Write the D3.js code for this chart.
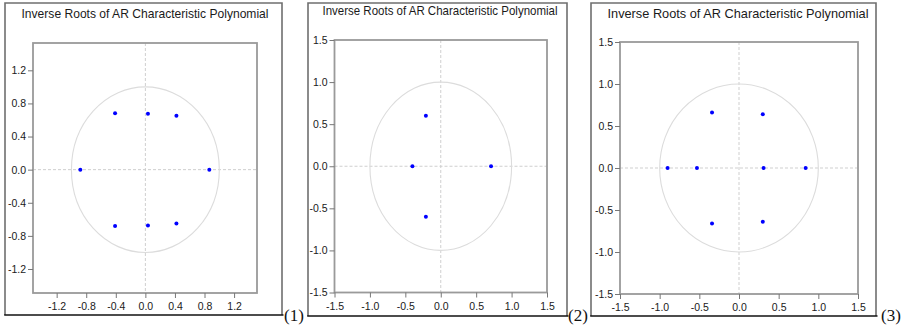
<!DOCTYPE html>
<html>
<head>
<meta charset="utf-8">
<script src="https://cdn.jsdelivr.net/npm/d3@7"></script>
<style>
  body { margin: 0; background: #fff; }
  text { font-family: "Liberation Sans", Arial, sans-serif; }
</style>
</head>
<body>
<div id="chart"></div>
<script>
const re1 = [-0.41, 0.035, 0.42, -0.88, 0.865, -0.41, 0.035, 0.42];
const im1 = [0.68, 0.675, 0.65, 0, 0, -0.68, -0.675, -0.65];

const re2 = [-0.21, -0.40, 0.71, -0.21];
const im2 = [0.60, 0, 0, -0.60];

const re3 = [-0.34, 0.30, -0.90, -0.53, 0.31, 0.84, -0.34, 0.30];
const im3 = [0.66, 0.64, 0, 0, 0, 0, -0.66, -0.64];

const ticks1 = [-1.2, -0.8, -0.4, 0.0, 0.4, 0.8, 1.2];
const ticks23 = [-1.5, -1.0, -0.5, 0.0, 0.5, 1.0, 1.5];

const title = "Inverse Roots of AR Characteristic Polynomial";
const panelLabels = ["(1)", "(2)", "(3)"];

const W = 905, H = 327;

// plain hyphen for negatives, like the original
const fmt = function(d) { return d3.format(".1f")(d).replace("\u2212", "-"); };

const svg = d3.select("#chart")
  .append("svg")
    .attr("width", W)
    .attr("height", H);

// layout of each panel (frame, plot area, title)
const panels = [
  { re: re1, im: im1, ticks: ticks1, xdom: [-1.52, 1.51], ydom: [-1.49, 1.53],
    frame: {x0: 5, y0: 3, x1: 282, y1: 315},
    plot: {x0: 33, y0: 43, x1: 257, y1: 293},
    titleX: 145, titleY: 18, titleW: 247, labelX: 284 },
  { re: re2, im: im2, ticks: ticks23, xdom: [-1.5, 1.5], ydom: [-1.5, 1.5],
    frame: {x0: 308, y0: 3, x1: 567, y1: 316},
    plot: {x0: 334.5, y0: 40, x1: 547, y1: 292.5},
    titleX: 440, titleY: 15, titleW: 235, labelX: 568 },
  { re: re3, im: im3, ticks: ticks23, xdom: [-1.5, 1.5], ydom: [-1.5, 1.5],
    frame: {x0: 591, y0: 3, x1: 876, y1: 316},
    plot: {x0: 620, y0: 42, x1: 858, y1: 294},
    titleX: 738, titleY: 17.5, titleW: 261, labelX: 881 }
];

panels.forEach(function(p, i) {
  const g = svg.append("g");
  const f = p.frame, a = p.plot;

  // outer frame: grey on three sides, black bottom rule
  g.append("path")
    .attr("d", `M${f.x0},${f.y1} L${f.x0},${f.y0} L${f.x1},${f.y0} L${f.x1},${f.y1}`)
    .attr("fill", "none")
    .attr("stroke", "#6f6f6f")
    .attr("stroke-width", 1.6);
  g.append("line")
    .attr("x1", f.x0 - 0.8).attr("x2", f.x1 + 1.5)
    .attr("y1", f.y1).attr("y2", f.y1)
    .attr("stroke", "#111")
    .attr("stroke-width", 1.4);

  g.append("text")
    .attr("x", p.titleX)
    .attr("y", p.titleY)
    .attr("text-anchor", "middle")
    .attr("textLength", p.titleW)
    .attr("lengthAdjust", "spacingAndGlyphs")
    .style("font-size", "13.5px")
    .style("fill", "#1a1a1a")
    .text(title);

  g.append("text")
    .attr("x", p.labelX)
    .attr("y", 321)
    .style("font-family", "'Liberation Serif', 'Times New Roman', serif")
    .style("font-size", "17px")
    .style("fill", "#111")
    .text(panelLabels[i]);

  const x = d3.scaleLinear().domain(p.xdom).range([a.x0, a.x1]);
  const y = d3.scaleLinear().domain(p.ydom).range([a.y1, a.y0]);

  // zero lines
  g.append("line")
    .attr("x1", x(0)).attr("x2", x(0))
    .attr("y1", a.y0).attr("y2", a.y1)
    .attr("stroke", "#cfcfcf")
    .attr("stroke-dasharray", "3,2");
  g.append("line")
    .attr("x1", a.x0).attr("x2", a.x1)
    .attr("y1", y(0)).attr("y2", y(0))
    .attr("stroke", "#cfcfcf")
    .attr("stroke-dasharray", "3,2");

  // unit circle
  g.append("ellipse")
    .attr("cx", x(0))
    .attr("cy", y(0))
    .attr("rx", x(1) - x(0))
    .attr("ry", y(0) - y(1))
    .attr("fill", "none")
    .attr("stroke", "#dcdcdc")
    .attr("stroke-width", 1.1);

  // plot border
  g.append("rect")
    .attr("x", a.x0).attr("y", a.y0)
    .attr("width", a.x1 - a.x0)
    .attr("height", a.y1 - a.y0)
    .attr("fill", "none")
    .attr("stroke", "#9a9a9a")
    .attr("stroke-width", 1.8);

  const xAxis = g.append("g")
    .attr("transform", `translate(0,${a.y1})`)
    .call(d3.axisBottom(x).tickValues(p.ticks).tickFormat(fmt).tickSize(5).tickSizeOuter(0).tickPadding(5));
  const yAxis = g.append("g")
    .attr("transform", `translate(${a.x0},0)`)
    .call(d3.axisLeft(y).tickValues(p.ticks).tickFormat(fmt).tickSize(5).tickSizeOuter(0).tickPadding(2));

  [xAxis, yAxis].forEach(function(ax) {
    ax.select(".domain").remove();
    ax.selectAll(".tick line").attr("stroke", "#777");
    ax.selectAll(".tick text")
      .style("font-family", "'Liberation Sans', Arial, sans-serif")
      .style("font-size", "10.5px")
      .style("fill", "#1a1a1a");
  });

  // roots
  g.selectAll("circle.root")
    .data(p.re.map(function(r, k) { return {re: r, im: p.im[k]}; }))
    .enter()
    .append("circle")
      .attr("class", "root")
      .attr("cx", function(d) { return x(d.re); })
      .attr("cy", function(d) { return y(d.im); })
      .attr("r", 2)
      .attr("fill", "#0000ff");
});
</script>
</body>
</html>
